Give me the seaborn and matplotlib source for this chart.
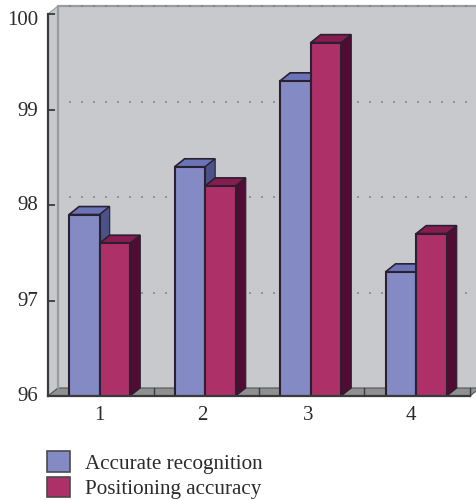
import matplotlib
matplotlib.use("Agg")
import matplotlib.pyplot as plt
from matplotlib.patches import Polygon, Patch
from matplotlib.transforms import ScaledTranslation
import pandas as pd
import seaborn as sns

categories = ["1", "2", "3", "4"]
accurate_recognition = [97.9, 98.4, 99.3, 97.3]
positioning_accuracy = [97.6, 98.2, 99.7, 97.7]
series_names = ["Accurate recognition", "Positioning accuracy"]
y_ticks = [96, 97, 98, 99, 100]

front_colors = ["#848AC4", "#AD3068"]
top_colors = ["#6A74B6", "#871C50"]
side_colors = ["#4A5288", "#500C33"]
edge_color = "#2A2030"
wall_color = "#C8C9CD"
wall_edge = "#9A9B9F"
floor_color = "#8F9090"
text_color = "#2B2B2B"

DPI = 100
W, H = 477, 500
AX_W, AX_H = 422, 382
DEPTH_X, DEPTH_Y = 10, 8   # oblique depth of the box, pixels
X_LABEL_NUDGE = [0, -3, -3, -5]   # horizontal label offsets, pixels
Y_LABEL_NUDGE = [2, 2, 2, 1, -4]  # vertical label offsets, pixels

sns.set_theme(style="white")
plt.rcParams["font.family"] = ["Liberation Serif", "DejaVu Serif"]
plt.rcParams["lines.scale_dashes"] = False

df = pd.DataFrame({
    "group": categories * 2,
    "value": accurate_recognition + positioning_accuracy,
    "series": [series_names[0]] * 4 + [series_names[1]] * 4,
})

fig = plt.figure(figsize=(W / DPI, H / DPI), dpi=DPI, facecolor="white")
ax = fig.add_axes([48 / W, (H - 396) / H, AX_W / W, AX_H / H])
ax.patch.set_visible(False)

sns.barplot(data=df, x="group", y="value", hue="series", order=categories,
            hue_order=series_names, palette=front_colors, width=0.58, gap=0,
            dodge=True, ax=ax, legend=False, saturation=1,
            edgecolor=edge_color, linewidth=1.5)
ax.set_xlim(-0.49, 3.51)
ax.set_ylim(96, 100)
baseline = ax.get_ylim()[0]

shift = ScaledTranslation(DEPTH_X / DPI, DEPTH_Y / DPI, fig.dpi_scale_trans)
back = ax.transAxes + shift

# box walls and floor
ax.add_patch(Polygon([(0, 0), (1, 0), (1, 1), (0, 1)], closed=True, transform=back,
                     facecolor=wall_color, edgecolor="none", zorder=0.1, clip_on=False))
side_pts = [ax.transAxes.transform((0, 0)), back.transform((0, 0)),
            back.transform((0, 1)), ax.transAxes.transform((0, 1))]
ax.add_patch(Polygon(side_pts, closed=True, transform=None, facecolor=wall_color,
                     edgecolor=wall_edge, lw=0.8, zorder=0.2, clip_on=False))
ax.plot([0, 0], [0, 1], transform=back, color=wall_edge, lw=1.6, zorder=0.3, clip_on=False)
ax.plot([0, 1], [1, 1], transform=back, color=wall_edge, lw=1.6, zorder=0.3, clip_on=False)
floor_pts = [ax.transAxes.transform((0, 0)), back.transform((0, 0)),
             back.transform((1, 0)), ax.transAxes.transform((1, 0))]
ax.add_patch(Polygon(floor_pts, closed=True, transform=None, facecolor=floor_color,
                     edgecolor="#555555", lw=0.8, zorder=0.25, clip_on=False))
for k in range(1, len(categories) + 1):
    ax.plot([k / len(categories)] * 2, [0, DEPTH_Y / AX_H], transform=ax.transAxes,
            color="#3A3A3A", lw=1.0, zorder=0.35, clip_on=False)

# dotted gridlines along the back wall
for v in y_ticks[1:]:
    frac = (v - y_ticks[0]) / (y_ticks[-1] - y_ticks[0])
    ax.plot([11 / AX_W, 1], [frac, frac], transform=back, color="#808080", lw=1.1,
            linestyle=(0, (1.4, 7.24)), zorder=0.4, clip_on=False)

# oblique top and side faces of every bar
dx = DEPTH_X / (AX_W / 4)
dy = DEPTH_Y / (AX_H / 4)
for s, container in enumerate(ax.containers):
    for bar in container:
        x0, x1 = bar.get_x(), bar.get_x() + bar.get_width()
        top = bar.get_y() + bar.get_height()
        ax.add_patch(Polygon([(x0, top), (x1, top), (x1 + dx, top + dy), (x0 + dx, top + dy)],
                             closed=True, facecolor=top_colors[s], edgecolor=edge_color,
                             lw=1.2, zorder=2 + s, clip_on=False))
        ax.add_patch(Polygon([(x1, baseline), (x1 + dx, baseline + dy), (x1 + dx, top + dy), (x1, top)],
                             closed=True, facecolor=side_colors[s], edgecolor=edge_color,
                             lw=0.8, zorder=2 + s, clip_on=False))
        bar.set_zorder(4 + s)

for name in ("top", "right"):
    ax.spines[name].set_visible(False)
for name in ("left", "bottom"):
    ax.spines[name].set_color("#3A3A3A")
    ax.spines[name].set_linewidth(1.6)
    ax.spines[name].set_zorder(8)

ax.set_xlabel("")
ax.set_ylabel("")
ax.set_yticks(y_ticks)
ax.tick_params(axis="y", direction="in", length=5, width=1.3, color="#3A3A3A",
               labelsize=15, labelcolor=text_color, pad=7, left=True)
ax.tick_params(axis="x", length=0, labelsize=15, labelcolor=text_color, pad=7)

# hand-placed tick label offsets
for label, nudge in zip(ax.get_xticklabels(), X_LABEL_NUDGE):
    label.set_transform(label.get_transform()
                        + ScaledTranslation(nudge / DPI, 0, fig.dpi_scale_trans))
for label, nudge in zip(ax.get_yticklabels(), Y_LABEL_NUDGE):
    label.set_transform(label.get_transform()
                        + ScaledTranslation(0, nudge / DPI, fig.dpi_scale_trans))

handles = [Patch(facecolor=c, edgecolor="#4A4A4A", lw=1.2) for c in front_colors]
fig.legend(handles, series_names, loc="lower left",
           bbox_to_anchor=(48 / W - 0.003, 0.0), frameon=False, fontsize=15.2,
           handlelength=1.09, handleheight=1.09, handletextpad=0.68,
           labelspacing=0.15, borderaxespad=0, borderpad=0.04,
           labelcolor=text_color)

fig.savefig("out.png", dpi=DPI, facecolor="white")
